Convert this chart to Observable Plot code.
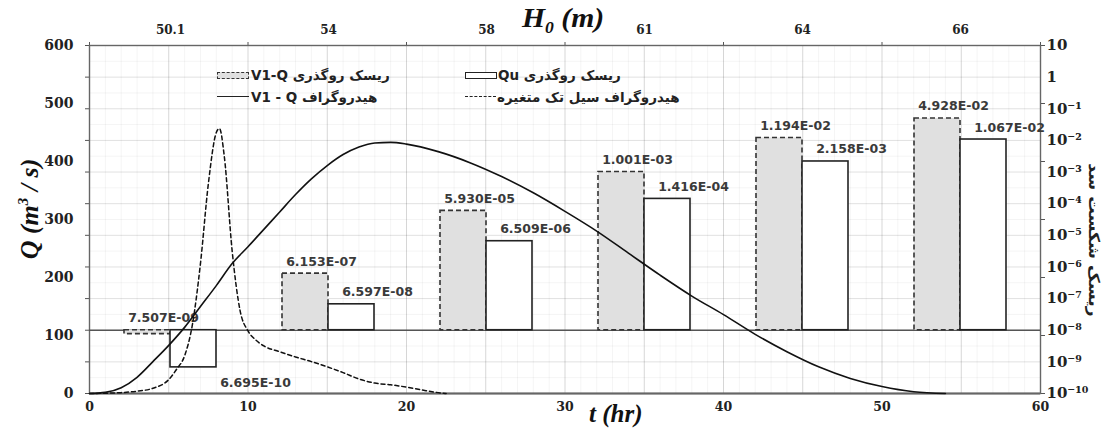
<!DOCTYPE html>
<html><head><meta charset="utf-8">
<script src="https://cdn.jsdelivr.net/npm/d3@7"></script>
<script src="https://cdn.jsdelivr.net/npm/@observablehq/plot@0.6"></script>
<style>
body{margin:0;background:#fff;}
#wrap{position:relative;width:1110px;height:432px;overflow:hidden;background:#fff;}
#wrap svg{position:absolute;left:0;top:0;}
.lg{position:absolute;white-space:nowrap;font-family:"DejaVu Sans",sans-serif;font-weight:bold;font-size:13.5px;color:#222;line-height:18px;}
.ttl{position:absolute;white-space:nowrap;font-family:"Liberation Serif","Times New Roman",serif;font-weight:bold;font-style:italic;color:#111;}
</style></head><body><div id="wrap"></div>
<script>
// ---- data ----
const H0 = ["50.1", "54", "58", "61", "64", "66"];
const seriesNames = ["V1-Q", "Qu"];
const riskV1Q = [7.507e-9, 6.153e-7, 5.930e-5, 1.001e-3, 1.194e-2, 4.928e-2];
const riskQu  = [6.695e-10, 6.597e-8, 6.509e-6, 1.416e-4, 2.158e-3, 1.067e-2];

const tMain = [0,1,2,3,4,5,6,7,8,9,10,11,12,13,14,15,16,17,18,19,20,22,24,26,28,30,32,34,36,38,40,42,44,46,48,50,52,54];
const qMain = [0,2,10,28,55,83,114,150,186,224,253,283,313,343,370,393,412,425,432,433,430,417,398,374,346,314,280,242,204,168,136,102,72,46,26,12,3,0];

const tSingle = [0,1,2,3,4,5,5.5,6,6.5,7,7.5,8,8.2,8.5,9,9.5,10,10.5,11,12,13,14,15,16,17,18,19,20,21,22,22.5];
const qSingle = [0,0.5,1.5,4,9,24,42,65,120,224,362,450,457,410,246,143,108,92,82,72,63,55,46,36,25,18,15,11,6,1.5,0];

const tTicks = [0, 10, 20, 30, 40, 50, 60];
const qTicks = [0, 100, 200, 300, 400, 500, 600];
const riskTicks = [10, 1, 1e-1, 1e-2, 1e-3, 1e-4, 1e-5, 1e-6, 1e-7, 1e-8, 1e-9, 1e-10];
const riskTickLabels = ["10", "1", "10⁻¹", "10⁻²", "10⁻³", "10⁻⁴", "10⁻⁵", "10⁻⁶", "10⁻⁷", "10⁻⁸", "10⁻⁹", "10⁻¹⁰"];
const riskBase = 1e-8;

// ---- derived tables ----
const riskRows = H0.flatMap((h, i) => [
  {h, series: "V1-Q", value: riskV1Q[i]},
  {h, series: "Qu", value: riskQu[i]}
]);
const mainRows = tMain.map((t, i) => ({t, q: qMain[i]}));
const singleRows = tSingle.map((t, i) => ({t, q: qSingle[i]}));
const tickLabelMap = new Map(riskTicks.map((v, i) => [v, riskTickLabels[i]]));
const sci = v => { const [m, e] = v.toExponential(3).split("e"); const n = +e; return m + "E" + (n < 0 ? "-" : "+") + String(Math.abs(n)).padStart(2, "0"); };

const W = 1110, H = 432;
const M = {marginLeft: 89, marginRight: 70, marginTop: 45, marginBottom: 39};
const numFont = {fontFamily: "DejaVu Serif, serif", fontWeight: "bold"};
const minorT = d3.range(0, 61, 1);
const majorT = d3.range(0, 61, 5);
const halfDec = riskTicks.slice(1).map(v => v * Math.sqrt(10));

// back layer: grid, t axis, risk axis
const back = Plot.plot({
  width: W, height: H, ...M,
  x: {domain: [0, 60]},
  y: {type: "log", domain: [1e-10, 10]},
  style: {background: "white", color: "#222"},
  marks: [
    Plot.gridX(minorT, {stroke: "#000", strokeOpacity: 0.045}),
    Plot.gridY(halfDec, {stroke: "#000", strokeOpacity: 0.045}),
    Plot.gridX(majorT, {stroke: "#000", strokeOpacity: 0.12}),
    Plot.gridY(riskTicks, {stroke: "#000", strokeOpacity: 0.12}),
    Plot.axisX(tTicks, {anchor: "bottom", tickSize: 0, tickPadding: 9, label: null, fontSize: 12.5, ...numFont}),
    Plot.axisX(tTicks, {anchor: "top", tickSize: 4, tickFormat: () => "", label: null, stroke: "#555"}),
    Plot.axisY(riskTicks, {anchor: "right", tickSize: 0, tickPadding: 6, label: null, tickFormat: d => tickLabelMap.get(d), fontSize: 15, ...numFont}),
    Plot.axisY(riskTicks, {anchor: "left", tickSize: 4, tickFormat: () => "", label: null, stroke: "#555"}),
    Plot.frame({stroke: "#666", strokeWidth: 1.4}),
    Plot.ruleY([1e-10], {stroke: "#666", strokeWidth: 2}),
    Plot.ruleY([riskBase], {stroke: "#555", strokeWidth: 1.6})
  ]
});

// middle layer: risk bars per H0
const labelAbove = d => d.value >= riskBase / 10;
const mkLabels = (s, dx) => [
  Plot.text(riskRows.filter(d => d.series === s && labelAbove(d)), {fx: "h", x: "series", y: d => Math.max(d.value, riskBase), text: d => sci(d.value), dy: -12, dx, fontFamily: "DejaVu Sans, sans-serif", fontWeight: "bold", fontSize: 12.5, fill: "#3a3a3a"}),
  Plot.text(riskRows.filter(d => d.series === s && !labelAbove(d)), {fx: "h", x: "series", y: "value", text: d => sci(d.value), dy: 16, dx: dx + 36, fontFamily: "DejaVu Sans, sans-serif", fontWeight: "bold", fontSize: 12.5, fill: "#3a3a3a"})
];
const mid = Plot.plot({
  width: W, height: H, ...M,
  facet: {marginTop: 0, marginBottom: 0, marginLeft: 0, marginRight: 0},
  fx: {domain: H0, padding: 0, label: null},
  x: {domain: seriesNames, paddingInner: 0, paddingOuter: 0.717, axis: null},
  y: {type: "log", domain: [1e-10, 10], axis: null},
  style: {background: "transparent", color: "#222"},
  marks: [
    Plot.barY(riskRows.filter(d => d.series === "V1-Q"), {fx: "h", x: "series", y1: riskBase, y2: "value", inset: 0, fill: "#e0e0e0", stroke: "#333", strokeWidth: 1.6, strokeDasharray: "5,3"}),
    Plot.barY(riskRows.filter(d => d.series === "Qu"), {fx: "h", x: "series", y1: riskBase, y2: "value", inset: 0, fill: "white", stroke: "#222", strokeWidth: 1.6}),
    ...mkLabels("V1-Q", 16),
    ...mkLabels("Qu", 26),
    Plot.axisFx({anchor: "top", tickSize: 0, tickPadding: 12, label: null, fontSize: 12, ...numFont})
  ]
});

// front layer: hydrographs and Q axis
const front = Plot.plot({
  width: W, height: H, ...M,
  x: {domain: [0, 60], axis: null},
  y: {domain: [0, 600]},
  style: {background: "transparent", color: "#222"},
  marks: [
    Plot.axisY(qTicks, {anchor: "left", tickSize: 0, tickPadding: 16, label: null, fontSize: 14, ...numFont}),
    Plot.axisY(qTicks, {anchor: "right", tickSize: 4, tickFormat: () => "", label: null, stroke: "#555"}),
    Plot.lineY(singleRows, {x: "t", y: "q", stroke: "#111", strokeWidth: 1.5, strokeDasharray: "4,3", curve: "monotone-x"}),
    Plot.lineY(mainRows, {x: "t", y: "q", stroke: "#111", strokeWidth: 1.6, curve: "monotone-x"})
  ]
});

const wrap = document.getElementById("wrap");
wrap.append(back, mid, front);

// ---- legend and titles (HTML overlay) ----
function add(html, css, cls) {
  const el = document.createElement("div");
  if (cls) el.className = cls;
  el.innerHTML = html;
  Object.assign(el.style, {position: "absolute"}, css);
  wrap.appendChild(el);
  return el;
}
// legend symbols
add("", {left: "217px", top: "72px", width: "30px", height: "5px", border: "1.5px dashed #333", background: "#e0e0e0"});
add("", {left: "465px", top: "72px", width: "30px", height: "5px", border: "1.5px solid #222", background: "#fff"});
add("", {left: "217px", top: "96px", width: "32px", height: "0", borderTop: "1.6px solid #222"});
add("", {left: "465px", top: "96px", width: "31px", height: "0", borderTop: "1.6px dashed #222"});
// legend texts
add("V1-Q ریسک روگذری", {left: "251px", top: "66px"}, "lg");
add("Qu ریسک روگذری", {left: "498px", top: "66px"}, "lg");
add("V1 - Q هیدروگراف", {left: "251px", top: "88px"}, "lg");
add("هیدروگراف سیل تک متغیره", {left: "497px", top: "88px"}, "lg");
// titles
add("H<sub style='font-size:16px'>0</sub> (m)", {left: "522px", top: "5px", fontSize: "27px", lineHeight: "27px", transformOrigin: "0 50%", transform: "scaleX(1.1)"}, "ttl");
add("t (hr)", {left: "589px", top: "400px", fontSize: "25px"}, "ttl");
add("Q (m<sup style='font-size:15px'>3</sup> / s)", {left: "30px", top: "209px", fontSize: "26px", transform: "translate(-50%,-50%) rotate(-90deg)"}, "ttl");
add("ریسک شکست سد", {left: "1094px", top: "240px", lineHeight: "20px", transformOrigin: "50% 50%", transform: "translate(-50%,-50%) rotate(90deg) scaleX(1.15)", fontSize: "15px"}, "lg");
</script>
</body></html>
